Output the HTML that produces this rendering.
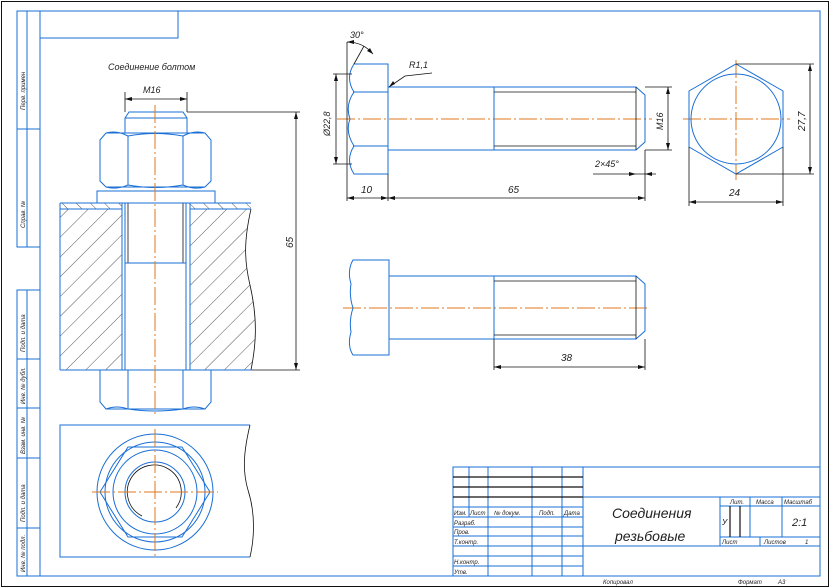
<!DOCTYPE html>
<html><head><meta charset="utf-8"><style>
html,body{margin:0;padding:0;background:#fff}
svg{display:block}
text{font-family:"Liberation Sans",sans-serif;font-style:italic;fill:#222}
</style></head><body>
<svg width="830" height="588" viewBox="0 0 830 588" xmlns="http://www.w3.org/2000/svg">
<defs>
<pattern id="h1" width="14" height="14" patternUnits="userSpaceOnUse" patternTransform="rotate(45)">
<line x1="0" y1="0" x2="0" y2="14" stroke="#111" stroke-width="0.7"/></pattern>
<pattern id="h2" width="10" height="10" patternUnits="userSpaceOnUse" patternTransform="rotate(-45)">
<line x1="0" y1="0" x2="0" y2="10" stroke="#111" stroke-width="0.7"/></pattern>
</defs>
<rect x="1.5" y="1.5" width="827" height="585" fill="none" stroke="#111" stroke-width="1"/>
<g fill="none" stroke="#1a6fd6" stroke-width="1">
<rect x="40" y="11" width="780" height="565"/>
<polyline points="40,38 178,38 178,11"/>
<rect x="17" y="11" width="23" height="236"/><line x1="27" y1="11" x2="27" y2="247"/><line x1="17" y1="129" x2="40" y2="129"/>
<rect x="17" y="290" width="23" height="286"/><line x1="27" y1="290" x2="27" y2="576"/>
<line x1="17" y1="359" x2="40" y2="359"/><line x1="17" y1="408" x2="40" y2="408"/><line x1="17" y1="458" x2="40" y2="458"/><line x1="17" y1="528" x2="40" y2="528"/>
</g>
<g font-size="6" >
<text transform="translate(25,110) rotate(-90)">Перв. примен</text>
<text transform="translate(25,228) rotate(-90)">Справ. №</text>
<text transform="translate(25,352) rotate(-90)">Подп. и дата</text>
<text transform="translate(25,404) rotate(-90)">Инв. № дубл.</text>
<text transform="translate(25,454) rotate(-90)">Взам. инв. №</text>
<text transform="translate(25,522) rotate(-90)">Подп. и дата</text>
<text transform="translate(25,572) rotate(-90)">Инв. № подл.</text>
</g>

<text x="108" y="70" font-size="9">Соединение болтом</text>
<text x="143" y="93" font-size="9">M16</text>
<g stroke="#111" stroke-width="0.8" fill="none">
<line x1="125" y1="92" x2="125" y2="112"/><line x1="187" y1="92" x2="187" y2="112"/>
<line x1="125" y1="99" x2="187" y2="99"/>
<line x1="187" y1="112" x2="300" y2="112"/><line x1="252" y1="370" x2="300" y2="370"/>
<line x1="296" y1="112" x2="296" y2="370"/>
<line x1="128" y1="203" x2="128" y2="263"/><line x1="183" y1="203" x2="183" y2="263"/>
<path d="M251,209 C244,240 244,260 250,285 C258,320 256,345 251,370"/>
</g>
<g fill="#111"><path d="M125,99 l7,-2 v4z M187,99 l-7,-2 v4z M296,112 l-2,7 h4z M296,370 l-2,-7 h4z"/></g>
<text transform="translate(293,248) rotate(-90)" font-size="10">65</text>
<rect x="60" y="209" width="62" height="161" fill="url(#h1)"/>
<path d="M190,209 L251,209 C244,240 244,260 250,285 C258,320 256,345 251,370 L190,370Z" fill="url(#h1)"/>
<rect x="60" y="203" width="62" height="6" fill="url(#h2)"/>
<rect x="190" y="203" width="61" height="6" fill="url(#h2)"/>
<g fill="none" stroke="#1a6fd6" stroke-width="1">
<path d="M125,133 V118 L129,112 H183 L187,118 V133"/><line x1="125" y1="118" x2="187" y2="118"/>
<path d="M100,140 L106,133 H205 L211,140 V181 L205,187 H106 L100,181Z"/>
<path d="M106,133 Q117,130 128,136 Q155,131 183,136 Q194,130 205,133"/>
<path d="M106,187 Q117,190 128,185 Q155,190 183,185 Q194,190 205,187"/>
<line x1="128" y1="136" x2="128" y2="185"/><line x1="183" y1="136" x2="183" y2="185"/>
<rect x="97" y="191" width="118" height="12"/>
<line x1="60" y1="203" x2="251" y2="203"/><line x1="60" y1="209" x2="122" y2="209"/><line x1="190" y1="209" x2="251" y2="209"/>
<line x1="60" y1="203" x2="60" y2="370"/><line x1="60" y1="370" x2="252" y2="370"/>
<line x1="122" y1="203" x2="122" y2="370"/><line x1="190" y1="203" x2="190" y2="370"/>
<line x1="125" y1="203" x2="125" y2="370"/><line x1="186" y1="203" x2="186" y2="370"/>
<line x1="125" y1="263" x2="186" y2="263"/>
<path d="M100,370 V402 L106,409 H205 L211,402 V370"/>
<path d="M106,409 Q117,405 128,409 Q155,413 183,409 Q194,405 205,409"/>
<line x1="128" y1="370" x2="128" y2="409"/><line x1="183" y1="370" x2="183" y2="409"/>
<path d="M250,425 H60 V557 H250"/>
<circle cx="155" cy="492" r="58"/>
<polygon points="128,447 182,447 210,492 182,537 128,537 100,492"/>
<circle cx="155" cy="492" r="50"/>
<circle cx="155" cy="492" r="42"/>
<circle cx="155" cy="492" r="30"/>
</g>
<g stroke="#111" stroke-width="0.8" fill="none">
<path d="M250,425 C244,450 242,470 248,490 C256,515 254,540 250,557"/>
<path d="M142,516 A27,27 0 1 1 176,508"/>
</g>
<g stroke="#e07a1c" stroke-width="1" stroke-dasharray="18,3,2,3" fill="none">
<line x1="155" y1="105" x2="155" y2="415"/>
<line x1="92" y1="492" x2="218" y2="492"/><line x1="155" y1="429" x2="155" y2="556"/>
<line x1="337" y1="119" x2="652" y2="119"/>
<line x1="683" y1="119" x2="790" y2="119"/><line x1="736" y1="60" x2="736" y2="180"/>
<line x1="343" y1="308" x2="650" y2="308"/>
</g>

<g fill="none" stroke="#1a6fd6" stroke-width="1">
<path d="M388,64 H354 Q345,78 354,92 Q345,105 350,119 Q345,132 354,146 Q345,160 354,174 H388Z"/>
<line x1="353" y1="92" x2="388" y2="92"/><line x1="353" y1="146" x2="388" y2="146"/>
<path d="M388,87 H636 L645,95 V142 L636,150 H388"/>
<line x1="494" y1="87" x2="494" y2="150"/>
<polygon points="736,64 783,91 783,147 736,174 689,147 689,91"/>
<circle cx="736" cy="119" r="45"/>
</g>
<g stroke="#111" stroke-width="0.8" fill="none">
<line x1="494" y1="92" x2="636" y2="92"/><line x1="494" y1="146" x2="636" y2="146"/><line x1="636" y1="87" x2="636" y2="150"/>
<line x1="333" y1="74" x2="352" y2="74"/><line x1="333" y1="164" x2="352" y2="164"/><line x1="336" y1="74" x2="336" y2="164"/>
<line x1="347" y1="42" x2="347" y2="201"/><line x1="388" y1="174" x2="388" y2="201"/><line x1="645" y1="150" x2="645" y2="201"/>
<line x1="347" y1="198" x2="645" y2="198"/>
<path d="M347,42 Q363,42 373,54"/><line x1="354" y1="64" x2="364" y2="46"/>
<polyline points="389,87 405,76 432,73"/>
<line x1="645" y1="87" x2="672" y2="87"/><line x1="645" y1="150" x2="672" y2="150"/><line x1="668" y1="87" x2="668" y2="150"/>
<line x1="593" y1="174" x2="656" y2="174"/>
<line x1="736" y1="64" x2="814" y2="64"/><line x1="736" y1="174" x2="814" y2="174"/><line x1="810" y1="64" x2="810" y2="174"/>
<line x1="689" y1="147" x2="689" y2="206"/><line x1="783" y1="147" x2="783" y2="206"/><line x1="689" y1="202" x2="783" y2="202"/>
</g>
<g fill="#111">
<path d="M336,74 l-2,7 h4z M336,164 l-2,-7 h4z M347,198 l7,-2 v4z M388,198 l-7,-2 v4z M388,198 l7,-2 v4z M645,198 l-7,-2 v4z M668,87 l-2,7 h4z M668,150 l-2,-7 h4z M810,64 l-2,7 h4z M810,174 l-2,-7 h4z M689,202 l7,-2 v4z M783,202 l-7,-2 v4z M389,87 l4,-6 l2,3z M636,174 l-7,-2 v4z M645,174 l7,-2 v4z M347,42 l7,-2 v4z M373,54 l-3,-6 l-3,3z"/>
</g>
<g font-size="10">
<text x="350" y="38" font-size="9">30°</text>
<text x="409" y="68" font-size="9">R1,1</text>
<text transform="translate(330,136) rotate(-90)" font-size="9">Ø22,8</text>
<text transform="translate(663,130) rotate(-90)" font-size="9">M16</text>
<text x="595" y="167" font-size="9">2×45°</text>
<text x="361" y="193">10</text><text x="508" y="193">65</text>
<text transform="translate(805,131) rotate(-90)">27,7</text>
<text x="729" y="196">24</text>
</g>

<g fill="none" stroke="#1a6fd6" stroke-width="1">
<path d="M389,260 H353 Q347,270 351,284 Q349,296 353,308 Q349,320 351,332 Q347,346 353,355 H389Z"/>
<path d="M389,276 H636 L645,284 V331 L636,339 H389"/>
<line x1="494" y1="276" x2="494" y2="339"/>
</g>
<g stroke="#111" stroke-width="0.8" fill="none">
<line x1="494" y1="281" x2="636" y2="281"/><line x1="494" y1="335" x2="636" y2="335"/><line x1="636" y1="276" x2="636" y2="339"/>
<line x1="494" y1="339" x2="494" y2="370"/><line x1="645" y1="339" x2="645" y2="370"/><line x1="494" y1="367" x2="645" y2="367"/>
</g>
<path d="M494,367 l7,-2 v4z M645,367 l-7,-2 v4z" fill="#111"/>
<text x="561" y="361" font-size="10">38</text>

<g fill="none" stroke="#1a6fd6" stroke-width="1">
<rect x="453" y="467" width="367" height="109"/>
<line x1="583" y1="467" x2="583" y2="576"/>
<line x1="583" y1="497" x2="820" y2="497"/><line x1="583" y1="546" x2="820" y2="546"/>
<line x1="720" y1="497" x2="720" y2="546"/>
<line x1="720" y1="506" x2="820" y2="506"/><line x1="720" y1="537" x2="820" y2="537"/>
<line x1="750" y1="497" x2="750" y2="537"/><line x1="782" y1="497" x2="782" y2="537"/>
<line x1="760" y1="537" x2="760" y2="546"/>
<line x1="488" y1="467" x2="488" y2="576"/><line x1="532" y1="467" x2="532" y2="576"/><line x1="562" y1="467" x2="562" y2="576"/>
<line x1="469" y1="467" x2="469" y2="517"/>
<line x1="453" y1="507" x2="583" y2="507"/><line x1="453" y1="517" x2="583" y2="517"/>
<line x1="453" y1="527" x2="583" y2="527"/><line x1="453" y1="536" x2="583" y2="536"/>
<line x1="453" y1="546" x2="583" y2="546"/><line x1="453" y1="556" x2="583" y2="556"/><line x1="453" y1="566" x2="583" y2="566"/>
</g>
<g stroke="#111" stroke-width="1.2">
<line x1="453" y1="477" x2="583" y2="477"/><line x1="453" y1="487" x2="583" y2="487"/><line x1="453" y1="497" x2="583" y2="497"/>
<line x1="730" y1="506" x2="730" y2="537"/><line x1="740" y1="506" x2="740" y2="537"/>
</g>
<g font-size="6">
<text x="454" y="515">Изм.</text><text x="470" y="515">Лист</text><text x="494" y="515">№ докум.</text><text x="539" y="515">Подп.</text><text x="564" y="515">Дата</text>
<text x="454" y="525">Разраб.</text><text x="454" y="534">Пров.</text><text x="454" y="544">Т.контр.</text>
<text x="454" y="564">Н.контр.</text><text x="454" y="574">Утв.</text>
<text x="730" y="504">Лит.</text><text x="756" y="504">Масса</text><text x="784" y="504">Масштаб</text>
<text x="722" y="544">Лист</text><text x="764" y="544">Листов</text><text x="805" y="544">1</text>
<text x="722" y="525" font-size="8">У</text>
<text x="603" y="584">Копировал</text><text x="738" y="584">Формат</text><text x="778" y="584">А3</text>
</g>
<text x="792" y="526" font-size="11">2:1</text>
<text x="612" y="518" font-size="14">Соединения</text>
<text x="615" y="541" font-size="14">резьбовые</text>
</svg>
</body></html>
